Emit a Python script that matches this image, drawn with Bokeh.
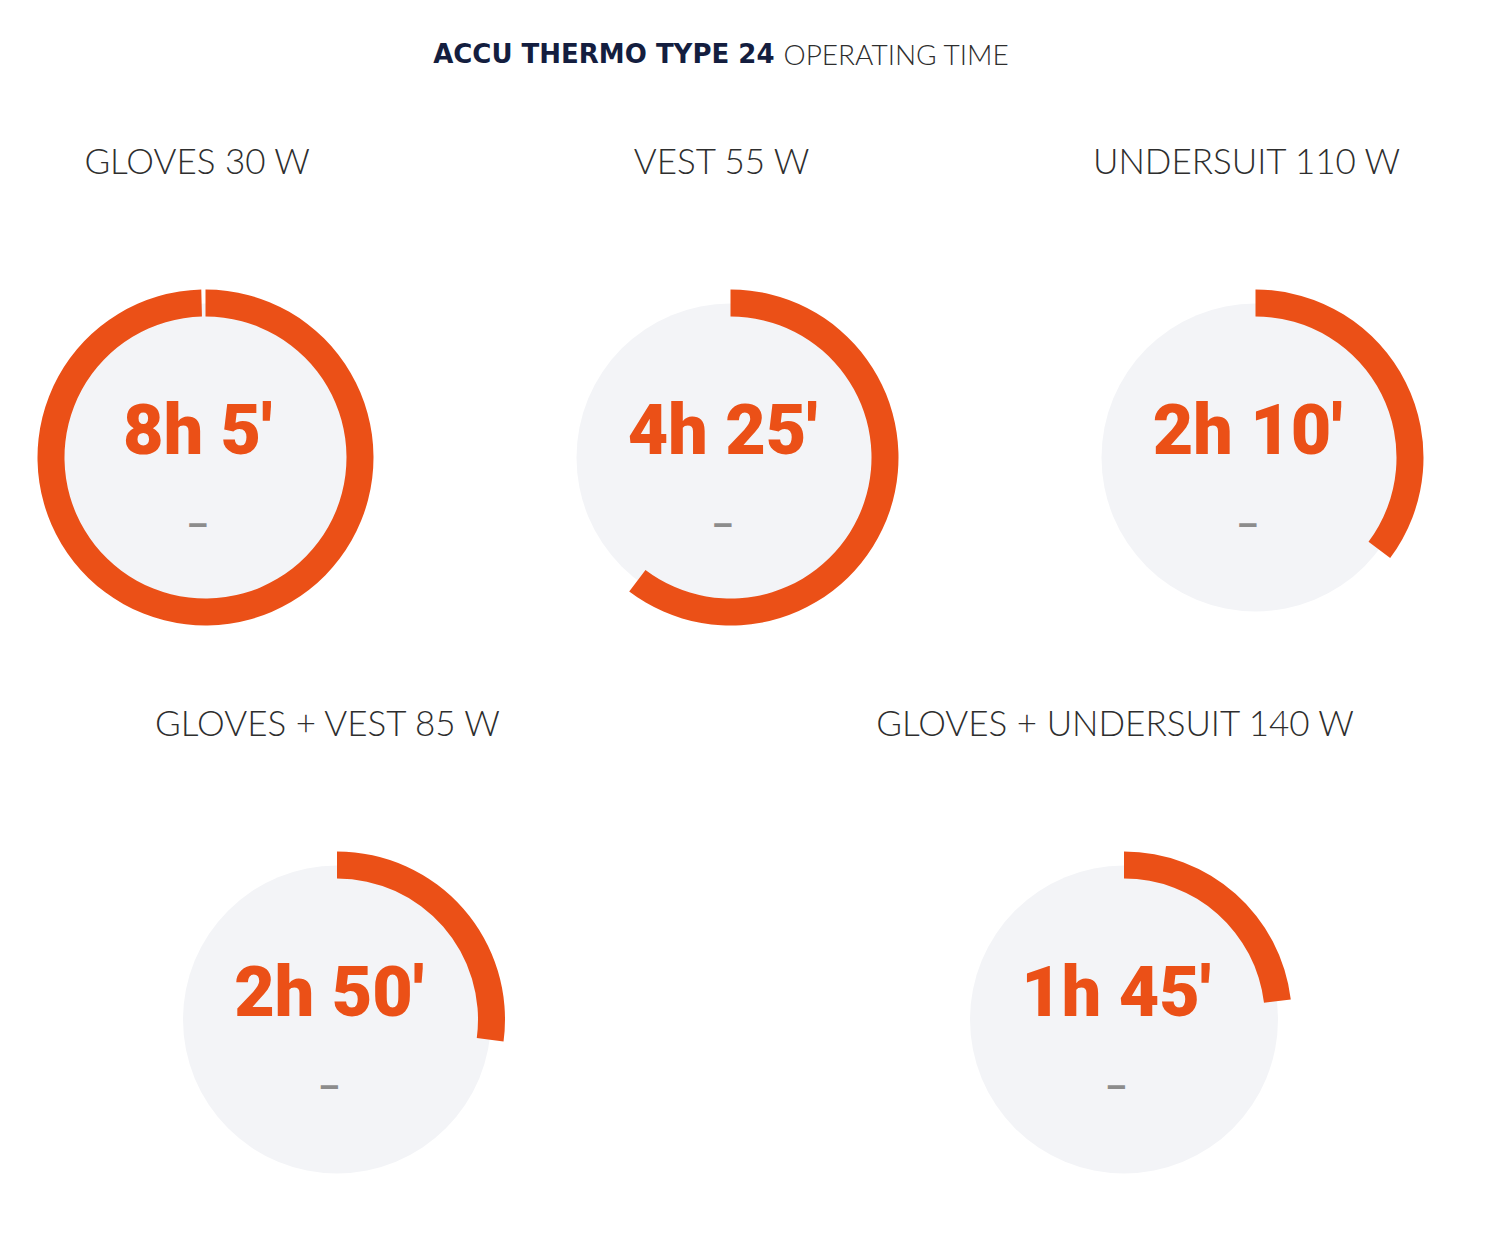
import math
from bokeh.plotting import figure
from bokeh.models import Range1d, ColumnDataSource
from bokeh.core.properties import value
from bokeh.embed import file_html
from bokeh.resources import INLINE

# ---- data ----
gauge_titles = ["GLOVES 30 W", "VEST 55 W", "UNDERSUIT 110 W",
                "GLOVES + VEST 85 W", "GLOVES + UNDERSUIT 140 W"]
time_labels = ["8h 5'", "4h 25'", "2h 10'", "2h 50'", "1h 45'"]
arc_percent = [99.6, 60.3, 35.2, 27.1, 23.1]   # share of the ring that is filled
sub_labels = ["–", "–", "–", "–", "–"]
title_bold = "ACCU THERMO TYPE 24"
title_light = "OPERATING TIME"

# ---- layout ----
W, H = 1492, 1238
MID = 730
ROW_Y = [457, 1019]                  # page-top distances of gauge centres
ROW_DX = [[-525, 0, 525], [-393.5, 393.5]]
R_DISK, R_IN, R_OUT = 154, 141, 168
ORANGE = "#EB5017"
DISK = "#F3F4F7"
NAVY = "#141E3F"
TXT = "#2E2E2E"
DASH = "#8C8C8C"

def Y(top):
    return H - top

cx, cy = [], []
for r, dxs in enumerate(ROW_DX):
    for dx in dxs:
        cx.append(MID + dx)
        cy.append(Y(ROW_Y[r]))

start = [math.pi / 2] * 5
end = [math.pi / 2 - 2 * math.pi * v / 100.0 for v in arc_percent]
tx = [x - 8 for x in cx]

src = ColumnDataSource(dict(
    x=cx, y=cy, tx=tx, start=start, end=end,
    title=gauge_titles, time=time_labels, sub=sub_labels,
    ty=[y + 298 for y in cy], vy=[y + 28 for y in cy], dy=[y - 67 for y in cy],
))

p = figure(width=W, height=H, x_range=Range1d(0, W), y_range=Range1d(0, H),
           output_backend="svg", toolbar_location=None,
           x_axis_type=None, y_axis_type=None, min_border=0)
p.grid.visible = False
p.outline_line_color = None
p.background_fill_color = "white"
p.border_fill_color = "white"

p.circle(x="x", y="y", radius=R_DISK, source=src, fill_color=DISK, line_color=None)
p.annular_wedge(x="x", y="y", inner_radius=R_IN, outer_radius=R_OUT,
                start_angle="start", end_angle="end", direction="clock",
                source=src, fill_color=ORANGE, line_color=None)

p.text(x="tx", y="ty", text="title", source=src, text_align="center",
       text_baseline="alphabetic", text_font=value("Lato Light"),
       text_font_size="35px", text_color=TXT)
p.text(x="tx", y="vy", text="time", source=src, text_align="center",
       text_baseline="alphabetic", text_font=value("Roboto Black"),
       text_font_size="70px", text_color=ORANGE)
p.text(x="tx", y="dy", text="sub", source=src, text_align="center",
       text_baseline="alphabetic", text_font=value("Roboto"),
       text_font_style="bold", text_font_size="34px", text_color=DASH)

p.text(x=[774], y=[Y(53)], text=[title_bold], text_align="right",
       text_baseline="alphabetic", text_font=value("DejaVu Sans"), text_font_style="bold",
       text_font_size="26px", text_color=NAVY)
p.text(x=[783], y=[Y(53)], text=[title_light], text_align="left",
       text_baseline="alphabetic", text_font=value("Lato Light"),
       text_font_size="28px", text_color=TXT)

open("out.html", "w").write(file_html(p, INLINE))
